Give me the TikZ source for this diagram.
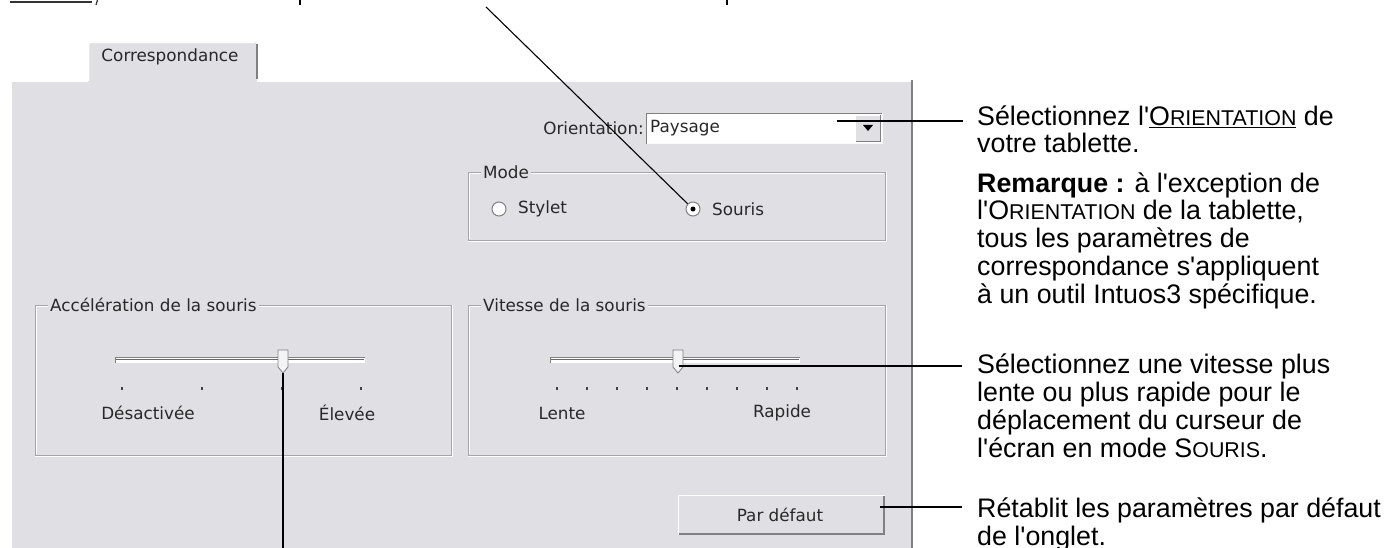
\documentclass[tikz,border=0pt]{standalone}
\usepackage{fontspec}
\setmainfont{Liberation Sans}
\newfontfamily\uifont{DejaVu Sans}
\usetikzlibrary{calc}
\definecolor{panel}{RGB}{224,223,228}
\definecolor{etch}{RGB}{165,165,170}
\definecolor{darkedge}{RGB}{128,128,132}
\definecolor{uitext}{RGB}{40,40,40}
\newcommand\smc[1]{{\fontsize{21.4}{27.7}\selectfont #1}}
\newcommand\ap{\textquotesingle}
\newcommand\groupbox[4]{%
  \draw[etch] (#1,#2) rectangle (#3,#4);
  \draw[white] (#1+1,#2+1) -- (#3-1,#2+1);
  \draw[white] (#1+1,#4-1) -- (#1+1,#2+1);
  \draw[white] (#1,#4+1) -- (#3+1,#4+1) -- (#3+1,#2);}
\tikzset{
  ui/.style={font=\uifont\fontsize{16.8}{20}\selectfont, text=uitext, inner sep=0pt},
  grouplabel/.style={ui, fill=panel, inner xsep=2pt, inner ysep=1pt, anchor=west},
  note/.style={font=\fontsize{26.8}{27.7}\selectfont, align=left, anchor=base west, inner sep=0pt},
  leader/.style={draw=black, line width=1.1pt},
  radio/.style={circle, minimum size=14pt, inner sep=0pt, fill=white, draw=darkedge, line width=1pt},
  thumbshape/.style={fill=white!60!panel, draw=darkedge, line width=0.8pt},
  tickdot/.style={fill=black!75},
}
\begin{document}
\begin{tikzpicture}[x=1pt,y=-1pt]
\useasboundingbox[fill=white] (0,0) rectangle (1391,548);
% cut-off fragments of the text line above
\draw[line width=1.8pt, black!80] (10,2) -- (92,2);
\draw[line width=1.2pt, black!80] (97.5,0) -- (96,5);
\draw[line width=1.8pt] (300,0) -- (300,5);
\draw[line width=1.8pt] (727,0) -- (727,5);
% panel
\fill[panel] (10,80) rectangle (913,548);
\draw[white, line width=1.5pt] (11,548) -- (11,81) -- (88,81);
\draw[white, line width=1.5pt] (257,81) -- (911,81);
\draw[darkedge, line width=2pt] (912,80) -- (912,548);
% tab
\fill[panel] (88,81) -- (88,44) -- (90,42) -- (255,42) -- (257,44) -- (257,81) -- cycle;
\draw[white, line width=1.5pt] (88.5,81) -- (88.5,44) -- (90,42.5) -- (255,42.5);
\draw[darkedge, line width=2pt] (256.5,44) -- (256.5,79);
\node[ui] (tab) at (170,57) {Correspondance};
% orientation combo
\node[ui, anchor=east] (orlabel) at (644,128) {Orientation:};
\fill[white] (646,113) rectangle (883,144);
\draw[darkedge] (646.5,144) -- (646.5,113.5) -- (883,113.5);
\draw[white!80!panel] (646.5,143.5) -- (882.5,143.5) -- (882.5,113.5);
\fill[panel] (855,115) rectangle (881,142);
\draw[white] (855.5,142) -- (855.5,115.5) -- (881,115.5);
\draw[darkedge, line width=1.2pt] (855.5,141.5) -- (880.5,141.5) -- (880.5,115.5);
\fill[black] (863,125) -- (873,125) -- (868,131) -- cycle;
\node[ui, anchor=west] (paysage) at (650,128) {Paysage};
% mode group
\groupbox{468}{172}{885}{240}
\node[grouplabel] (modelabel) at (481,172) {Mode};
\node[radio] (rstylet) at (499,209) {};
\node[ui, anchor=west] (stylet) at (518,209) {Stylet};
\node[radio] (rsouris) at (693,209) {};
\fill[black] (rsouris.center) circle (2.5);
\node[ui, anchor=west] (souris) at (712,209) {Souris};
% acceleration group
\groupbox{35}{305}{451}{455}
\node[grouplabel] (acclabel) at (48,305) {Accélération de la souris};
\fill[white] (115,357) rectangle (365,363);
\draw[darkedge] (115,363) -- (115,357.5) -- (365,357.5);
\draw[black!60] (116,358.8) -- (364,358.8);
\foreach \x in {122,202,282,361} \fill[tickdot] (\x-1,387) rectangle (\x+1,390);
\draw[thumbshape] (278,350) -- (288,350) -- (288,367) -- (283,373) -- (278,367) -- cycle;
\coordinate (accthumb) at (283,373);
\node[ui] (desact) at (148,413) {Désactivée};
\node[ui] (elevee) at (347,413) {Élevée};
% vitesse group
\groupbox{468}{305}{885}{455}
\node[grouplabel] (vitlabel) at (481,305) {Vitesse de la souris};
\fill[white] (550,357) rectangle (800,363);
\draw[darkedge] (550,363) -- (550,357.5) -- (800,357.5);
\draw[black!60] (551,358.8) -- (799,358.8);
\foreach \x in {557,587,617,647,677,707,737,767,797} \fill[tickdot] (\x-1,387) rectangle (\x+1,390);
\draw[thumbshape] (673,350) -- (683,350) -- (683,367) -- (678,373) -- (673,367) -- cycle;
\coordinate (vitthumb) at (679,366);
\node[ui] (lente) at (562,413) {Lente};
\node[ui] (rapide) at (782,413) {Rapide};
% button
\fill[panel] (678,495) rectangle (885,535);
\draw[white, line width=1.2pt] (678.5,535) -- (678.5,495.5) -- (885,495.5);
\draw[darkedge, line width=2pt] (679,534) -- (884,534) -- (884,496);
\node[ui] (pardefaut) at (780,515) {Par défaut};
% right-hand notes (anchor = baseline of last line)
\node[note] (noteA) at (977,153) {Sélectionnez l\ap\underline{O\smc{RIENTATION}} de\\votre tablette.};
\node[note] (noteB) at (977,303) {\textbf{Remarque :} à l\ap exception de\\l\ap O\smc{RIENTATION} de la tablette,\\tous les paramètres de\\correspondance s\ap appliquent\\à un outil Intuos3 spécifique.};
\node[note] (noteC) at (977,457) {Sélectionnez une vitesse plus\\lente ou plus rapide pour le\\déplacement du curseur de\\l\ap écran en mode S\smc{OURIS}.};
\node[note] (noteD) at (977,545) {Rétablit les paramètres par défaut\\de l\ap onglet.};
% leader lines
\coordinate (topfree) at (486,7);
\coordinate (combopt) at (837,121);
\coordinate (orientend) at (963,121);
\coordinate (vitend) at (962,366);
\coordinate (btnpt) at (880,507);
\coordinate (btnend) at (962,507);
\coordinate (bottomfree) at (283,548);
\draw[leader] (topfree) -- (rsouris);
\draw[leader] (combopt) -- (orientend);
\draw[leader] (vitthumb) -- (vitend);
\draw[leader] (btnpt) -- (btnend);
\draw[leader] (accthumb) -- (bottomfree);
\end{tikzpicture}
\end{document}
